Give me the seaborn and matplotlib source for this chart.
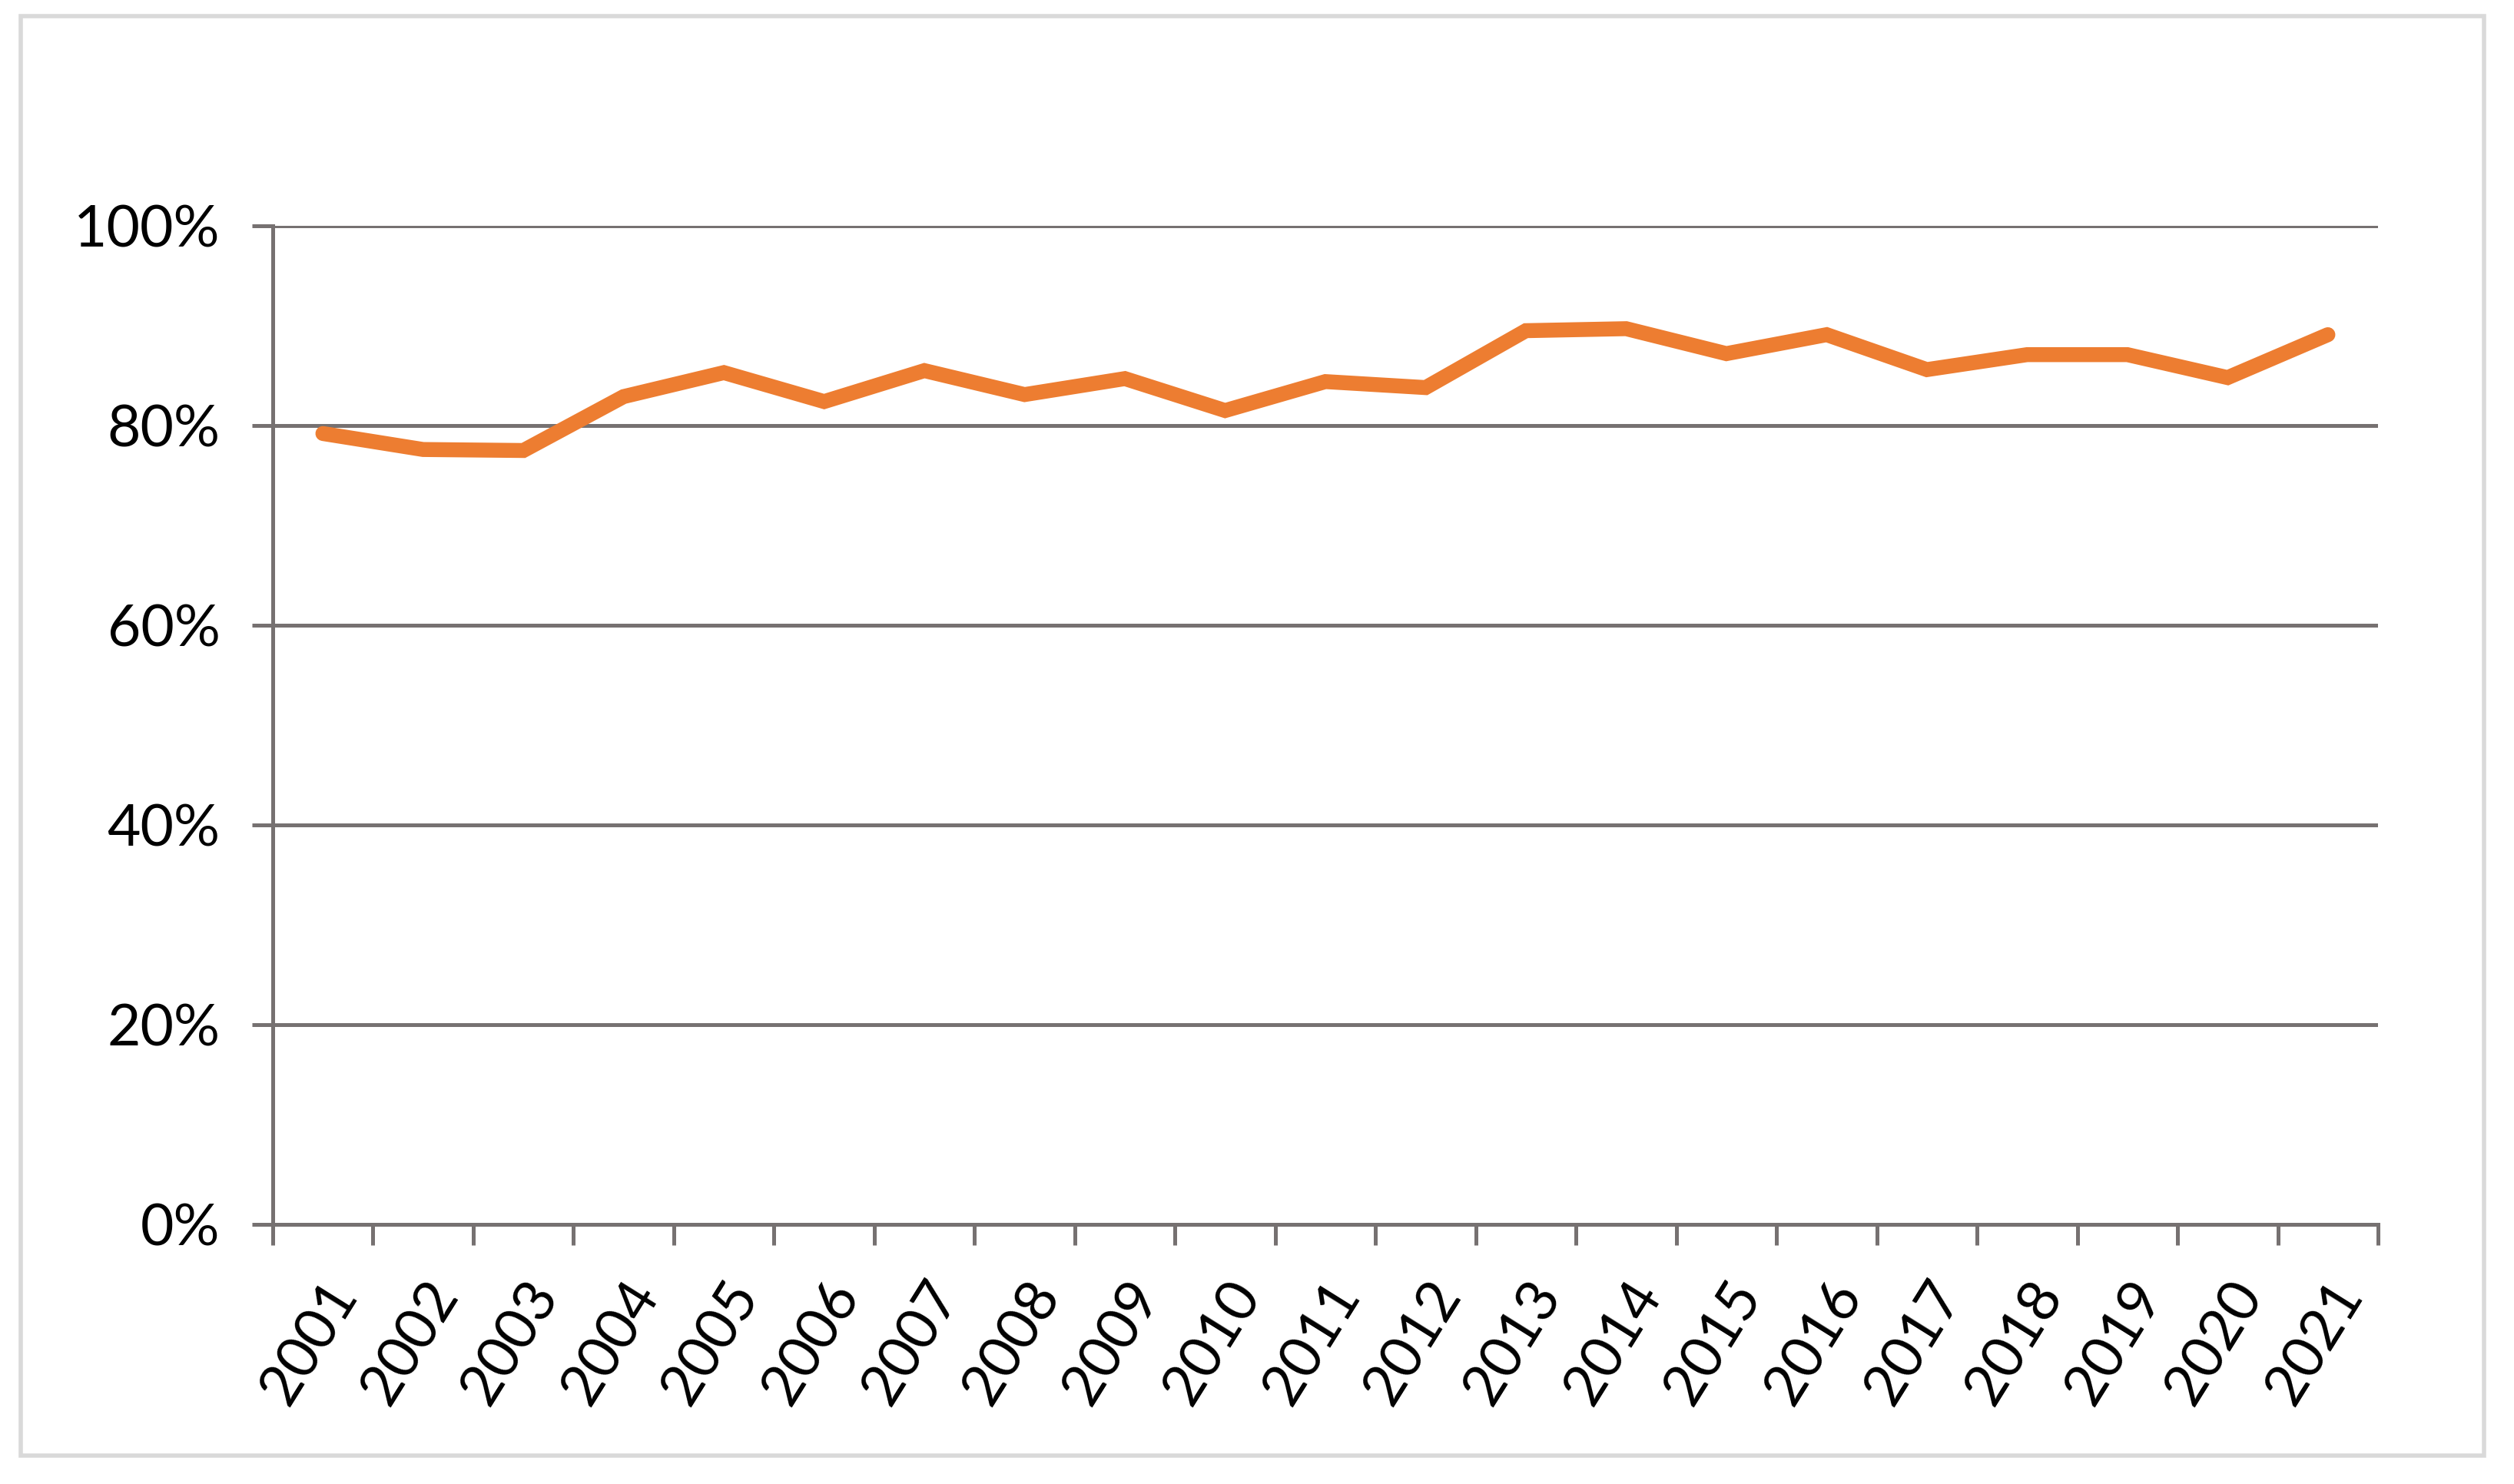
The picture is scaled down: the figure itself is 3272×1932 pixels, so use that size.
import matplotlib
matplotlib.use("Agg")
import matplotlib.pyplot as plt
import matplotlib.patches as mpatches
from matplotlib.ticker import FixedLocator, PercentFormatter
import seaborn as sns
import pandas as pd

years = [str(y) for y in range(2001, 2022)]
values = [79.2, 77.6, 77.5, 82.9, 85.3, 82.4, 85.5, 83.1, 84.7, 81.5, 84.4,
          83.8, 89.5, 89.7, 87.2, 89.1, 85.6, 87.1, 87.1, 84.8, 89.1]
yticks = [0, 20, 40, 60, 80, 100]

sns.set_theme(style="white")
plt.rcParams['font.family'] = ['Lato', 'DejaVu Sans']

DPI = 200
fig = plt.figure(figsize=(3272 / DPI, 1932 / DPI), dpi=DPI)
ax = fig.add_axes([355 / 3272, 1 - 1594 / 1932, (3095 - 355) / 3272, (1594 - 294) / 1932])

df = pd.DataFrame({"pos": range(len(years)), "value": [v / 100 for v in values]})
grid_c = "#767171"
sns.lineplot(data=df, x="pos", y="value", ax=ax, color="#ED7D31", linewidth=7,
             solid_capstyle="round", solid_joinstyle="miter")

ax.set_xlim(-0.5, len(years) - 0.5)
ax.set_ylim(0, 1.0)
ax.yaxis.set_major_locator(FixedLocator([t / 100 for t in yticks]))
ax.yaxis.set_major_formatter(PercentFormatter(1.0, decimals=0))
ax.grid(axis="y", color=grid_c, linewidth=1.8)
ax.set_axisbelow(True)

# category boundary ticks, labels at centers
ax.xaxis.set_major_locator(FixedLocator([i - 0.5 for i in range(len(years) + 1)]))
ax.xaxis.set_minor_locator(FixedLocator(list(range(len(years)))))
ax.set_xticklabels([""] * (len(years) + 1))
ax.set_xticklabels(years, minor=True)
ax.tick_params(axis="x", which="major", length=9.7, width=1.8, color=grid_c, direction="out", bottom=True)
ax.tick_params(axis="x", which="minor", length=0, pad=22, labelsize=27, labelcolor="black")
for lab in ax.get_xticklabels(minor=True):
    lab.set_rotation(58)
    lab.set_ha("right")
    lab.set_va("top")
    lab.set_rotation_mode("anchor")
ax.tick_params(axis="y", which="major", length=9.7, width=1.8, color=grid_c, direction="out",
               left=True, labelsize=27, labelcolor="black", pad=15)

ax.set_xlabel("")
ax.set_ylabel("")
for s in ["top", "right"]:
    ax.spines[s].set_visible(False)
for s in ["left", "bottom"]:
    ax.spines[s].set_color(grid_c)
    ax.spines[s].set_linewidth(1.8)
ax.spines["left"].set_zorder(3)

fig.patches.append(mpatches.Rectangle((27 / 3272, 1 - 1895 / 1932), (3233 - 27) / 3272, (1895 - 21) / 1932,
                                      transform=fig.transFigure, fill=False, edgecolor="#D9D9D9",
                                      linewidth=2, zorder=0))

fig.savefig("out.png", dpi=DPI, facecolor="white")
